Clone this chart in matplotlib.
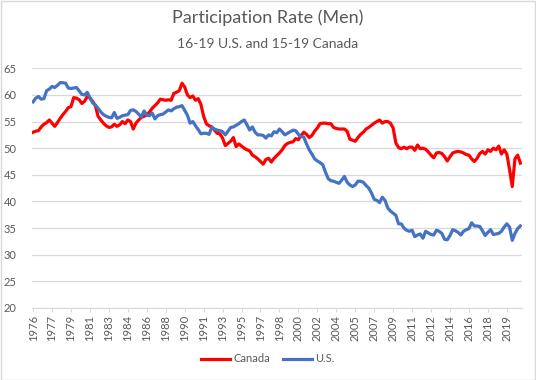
import matplotlib
matplotlib.use("Agg")
import matplotlib.pyplot as plt
from matplotlib.patches import Rectangle

plt.rcParams['font.family'] = ['Lato', 'DejaVu Sans']

# quarterly data, 1976 Q1 to 2021 Q1
canada = [
    53.0, 53.2, 53.3, 54.0, 54.5, 54.8, 55.3, 54.7, 54.1, 54.8, 55.6, 56.3,   # 1976-78
    56.9, 57.6, 57.8, 59.5, 59.4, 59.1, 58.4, 58.8, 59.7, 59.4, 58.8, 58.0,   # 1979-81
    56.0, 55.3, 54.7, 54.2, 53.9, 54.0, 54.5, 54.1, 54.4, 55.0, 54.6, 55.3,   # 1982-84
    55.0, 53.6, 54.7, 55.3, 55.8, 56.0, 56.2, 56.8, 57.5, 58.0, 58.5, 59.2,   # 1985-87
    59.1, 59.0, 59.1, 59.0, 60.3, 60.5, 60.8, 62.2, 61.5, 60.0, 59.5, 59.8,   # 1988-90
    59.0, 59.3, 58.2, 56.0, 54.6, 54.2, 54.0, 53.4, 52.8, 52.7, 51.9, 50.5,   # 1991-93
    50.9, 51.3, 52.0, 50.3, 50.8, 50.4, 50.0, 49.7, 49.5, 48.7, 48.4, 48.0,   # 1994-96
    47.5, 47.0, 47.9, 48.1, 47.4, 48.1, 48.6, 49.1, 49.7, 50.5, 50.9, 51.1,   # 1997-99
    51.2, 51.8, 51.6, 52.4, 53.0, 52.6, 52.0, 52.4, 53.2, 53.8, 54.6, 54.7,   # 2000-02
    54.7, 54.6, 54.6, 53.9, 53.7, 53.6, 53.6, 53.6, 53.2, 51.7, 51.5, 51.3,   # 2003-05
    52.0, 52.6, 53.0, 53.6, 53.9, 54.3, 54.7, 55.0, 55.3, 54.7, 55.0, 55.0,   # 2006-08
    54.7, 53.8, 51.0, 50.1, 49.9, 50.2, 49.9, 50.2, 50.2, 49.6, 50.6, 49.9,   # 2009-11
    50.0, 49.8, 49.3, 48.7, 48.2, 49.1, 49.2, 49.0, 48.4, 47.6, 48.4, 49.1,   # 2012-14
    49.3, 49.4, 49.3, 49.1, 48.8, 48.7, 48.0, 47.5, 48.1, 49.0, 49.4, 48.9,   # 2015-17
    49.7, 49.4, 50.0, 49.7, 50.4, 48.9, 49.7, 48.9, 46.0, 42.8, 48.0, 48.7,   # 2018-20
    47.2,                                                                     # 2021
]
us = [
    58.7, 59.4, 59.7, 59.2, 59.3, 60.8, 61.1, 61.6, 61.4, 61.8, 62.3, 62.3,
    62.2, 61.3, 61.2, 61.3, 61.4, 60.8, 60.1, 60.0, 60.5, 59.5, 58.5, 58.1,
    57.5, 56.8, 56.3, 56.0, 55.8, 55.7, 56.7, 55.6, 55.8, 56.1, 56.2, 56.3,
    57.1, 57.2, 56.9, 56.4, 55.9, 57.0, 56.2, 56.1, 56.6, 55.5, 56.1, 56.3,
    56.4, 56.8, 57.2, 57.0, 57.4, 57.7, 57.8, 58.0, 57.1, 56.2, 54.7, 55.0,
    54.2, 53.5, 52.7, 52.8, 52.8, 52.6, 53.9, 53.6, 53.4, 53.3, 53.1, 52.5,
    53.2, 53.9, 54.0, 54.3, 54.6, 55.0, 55.3, 54.4, 53.4, 54.0, 53.0, 52.5,
    52.5, 52.4, 51.9, 52.5, 52.3, 53.1, 52.9, 53.6, 53.1, 52.5, 52.8, 53.1,
    53.4, 53.3, 52.6, 52.2, 52.1, 50.8, 49.7, 48.9, 48.0, 47.6, 47.3, 46.9,
    45.5, 44.3, 43.9, 43.8, 43.6, 43.4, 44.0, 44.7, 43.6, 43.1, 42.8, 43.1,
    43.8, 43.8, 43.6, 43.0, 42.5, 41.6, 40.4, 40.2, 39.8, 40.8, 40.2, 38.8,
    38.2, 37.8, 37.4, 35.8, 35.8, 35.0, 34.6, 34.4, 34.6, 33.4, 33.7, 33.9,
    33.1, 34.4, 34.1, 33.8, 33.7, 34.6, 34.4, 34.0, 32.9, 32.8, 33.6, 34.7,
    34.5, 34.2, 33.7, 34.4, 34.7, 34.9, 36.0, 35.4, 35.4, 35.3, 34.5, 33.6,
    34.2, 34.7, 33.8, 33.9, 34.0, 34.4, 35.2, 35.8, 35.2, 32.7, 34.0, 34.9,
    35.4,
]
tick_labels = ['1976', '1977', '1979', '1981', '1983', '1984', '1986', '1988',
               '1990', '1991', '1993', '1995', '1997', '1998', '2000', '2002',
               '2004', '2005', '2007', '2009', '2011', '2012', '2014', '2016',
               '2018', '2019']
tick_step = 7

fig = plt.figure(figsize=(5.36, 3.8), dpi=100)
ax = fig.add_axes([32 / 536, 1 - 308 / 380, 490 / 536, (308 - 68.3) / 380])

x = list(range(len(canada)))
ax.plot(x, canada, color='#FF0000', lw=2.3, label='Canada', solid_joinstyle='round')
ax.plot(x, us, color='#4472C4', lw=2.3, label='U.S.', solid_joinstyle='round')

ax.set_ylim(20, 65)
ax.set_yticks(range(20, 66, 5))
ax.set_xlim(-0.4, len(canada) - 0.4)
ax.set_xticks([i * tick_step for i in range(len(tick_labels))])
ax.set_xticklabels(tick_labels, rotation=90)

ax.grid(axis='y', color='#D9D9D9', lw=0.9)
ax.set_axisbelow(True)
for s in ['top', 'right', 'left']:
    ax.spines[s].set_visible(False)
ax.spines['bottom'].set_color('#D9D9D9')
ax.tick_params(axis='y', length=0, labelsize=8, labelcolor='#595959', pad=11)
ax.tick_params(axis='x', length=3, color='#D9D9D9', labelsize=8, labelcolor='#595959', pad=2)

fig.text(0.5, 1 - 18 / 380, 'Participation Rate (Men)', ha='center', va='center',
         fontsize=13, color='#595959')
fig.text(0.5, 1 - 44 / 380, '16-19 U.S. and 15-19 Canada', ha='center', va='center',
         fontsize=10, color='#595959')

fig.legend(loc='center', bbox_to_anchor=(0.5, 1 - 359 / 380), ncol=2, frameon=False,
           fontsize=8, labelcolor='#595959', handlelength=2.6, handletextpad=0.3,
           columnspacing=1.2)

fig.patches.append(Rectangle((0.001, 0.001), 0.997, 0.996, transform=fig.transFigure,
                             fill=False, edgecolor='#D9D9D9', lw=1))

fig.savefig('out.png', dpi=100, facecolor='white')
